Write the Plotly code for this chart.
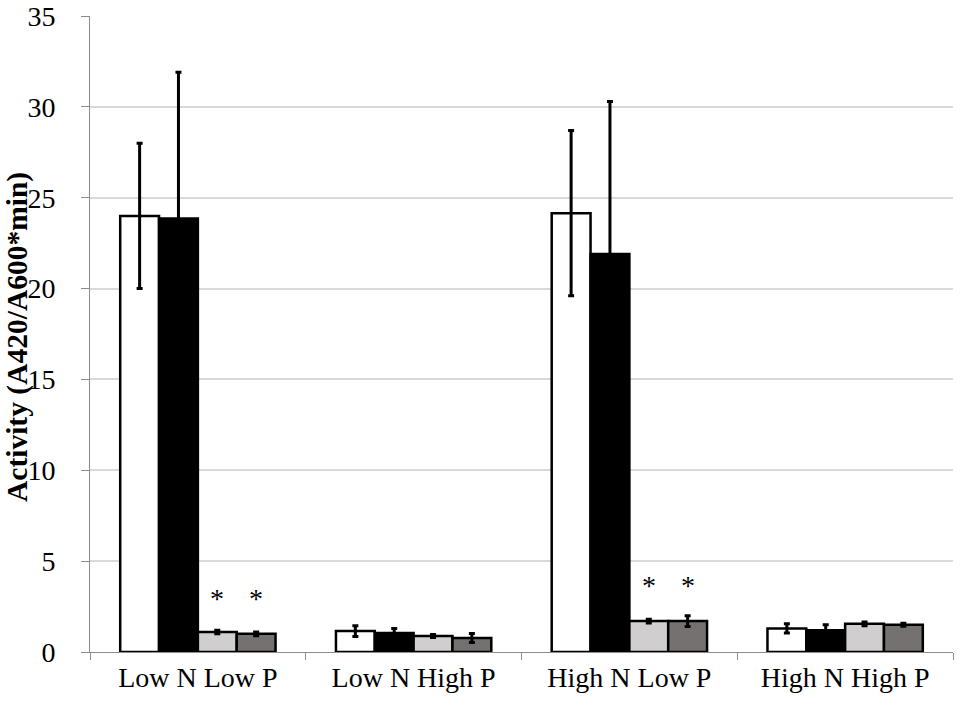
import plotly.graph_objects as go

# Groups on the x axis
categories = ['Low N Low P', 'Low N High P', 'High N Low P', 'High N High P']

# Four series (white, black, light gray, dark gray) and their error bars
white_vals = [24.0, 1.15, 24.15, 1.3]
white_err = [4.0, 0.3, 4.55, 0.25]
black_vals = [23.85, 1.05, 21.9, 1.2]
black_err = [8.05, 0.25, 8.4, 0.3]
light_vals = [1.1, 0.88, 1.7, 1.55]
light_err = [0.1, 0.08, 0.1, 0.1]
dark_vals = [1.0, 0.77, 1.7, 1.5]
dark_err = [0.1, 0.25, 0.3, 0.08]

# asterisks: (category, bar offset in px, y value)
star_marks = [('Low N Low P', 19.5, 2.0), ('Low N Low P', 58.5, 2.0),
              ('High N Low P', 19.5, 2.72), ('High N Low P', 58.5, 2.72)]

series = [
    (white_vals, white_err, '#ffffff'),
    (black_vals, black_err, '#000000'),
    (light_vals, light_err, '#d0cece'),
    (dark_vals, dark_err, '#767171'),
]

fig = go.Figure()
for vals, err, col in series:
    fig.add_trace(go.Bar(
        x=categories, y=vals,
        marker=dict(color=col, line=dict(color='black', width=2.5)),
        error_y=dict(type='data', array=err, color='black', thickness=3, width=3),
        showlegend=False,
    ))

for cat, dx, yv in star_marks:
    fig.add_annotation(x=cat, y=yv, xref='x', yref='y', xshift=dx, text='*',
                       showarrow=False, yanchor='bottom',
                       font=dict(family='Liberation Serif', size=28, color='black'))

# y axis title as a rotated annotation so it can sit close to the page edge
fig.add_annotation(x=0, y=0.4945, xref='paper', yref='paper', xshift=-72.5,
                   text='<b>Activity (A420/A600*min)</b>', textangle=-90,
                   showarrow=False, xanchor='center', yanchor='middle',
                   font=dict(family='Liberation Serif', size=29.5, color='black'))

fig.update_layout(
    width=960, height=707,
    barmode='group', bargap=0.28, bargroupgap=0,
    plot_bgcolor='white', paper_bgcolor='white',
    margin=dict(l=90, r=7, t=16, b=55),
    font=dict(family='Liberation Serif', size=28, color='black'),
    xaxis=dict(showline=True, linecolor='#8c8c8c', linewidth=1, automargin=False,
               ticks='outside', tickson='boundaries', ticklen=7, tickcolor='#8c8c8c',
               tickfont=dict(size=28)),
    yaxis=dict(range=[0, 35], dtick=5, showline=True, linecolor='#8c8c8c', linewidth=1,
               automargin=False, ticklabelstandoff=20,
               ticks='outside', ticklen=8, tickcolor='#8c8c8c',
               showgrid=True, gridcolor='#d9d9d9', gridwidth=1.5, zeroline=False,
               tickfont=dict(size=28)),
)

# drop the browser's default body margin so the figure sits at the page corner
fig.write_html('out.html', config={'displayModeBar': False},
               post_script="document.body.style.margin='0';")
